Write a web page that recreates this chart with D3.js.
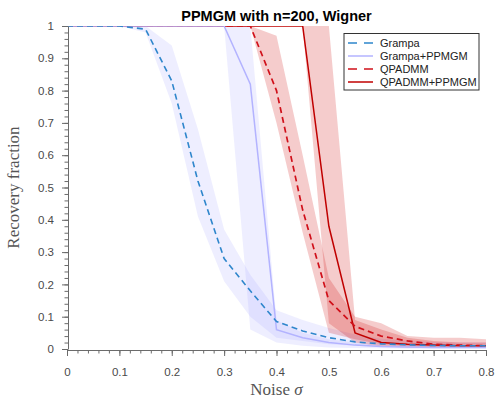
<!DOCTYPE html>
<html>
<head>
<meta charset="utf-8">
<script src="https://cdn.jsdelivr.net/npm/d3@7"></script>
<style>
  body { margin: 0; background: #fff; }
  svg { display: block; }
</style>
</head>
<body>
<svg id="chart"></svg>
<script>
// noise levels (x) and recovery fractions
const noise = [0, 0.05, 0.1, 0.15, 0.2, 0.25, 0.3, 0.35, 0.4, 0.45, 0.5, 0.55, 0.6, 0.65, 0.7, 0.75, 0.8];

const grampaMean = [1, 1, 1, 0.99, 0.83, 0.52, 0.28, 0.18, 0.085, 0.056, 0.035, 0.022, 0.016, 0.013, 0.011, 0.01, 0.01];
const grampaLo   = [1, 1, 1, 0.98, 0.76, 0.41, 0.21, 0.10, 0.035, 0.025, 0.015, 0.01, 0.006, 0.004, 0.003, 0.003, 0.003];
const grampaHi   = [1, 1, 1, 1, 0.94, 0.68, 0.37, 0.23, 0.12, 0.09, 0.065, 0.045, 0.032, 0.026, 0.022, 0.02, 0.02];

const gpMean = [1, 1, 1, 1, 1, 1, 1, 0.82, 0.06, 0.035, 0.02, 0.012, 0.008, 0.006, 0.005, 0.005, 0.005];
const gpLo   = [1, 1, 1, 1, 1, 1, 1, 0.06, 0.02, 0.01, 0.005, 0.003, 0.002, 0.001, 0.001, 0.001, 0.001];
const gpHi   = [1, 1, 1, 1, 1, 1, 1, 1, 0.09, 0.05, 0.03, 0.02, 0.015, 0.012, 0.01, 0.01, 0.01];

const qpMean = [1, 1, 1, 1, 1, 1, 1, 1, 0.8, 0.43, 0.15, 0.07, 0.04, 0.025, 0.015, 0.012, 0.01];
const qpLo   = [1, 1, 1, 1, 1, 1, 1, 1, 0.7, 0.36, 0.05, 0.03, 0.015, 0.01, 0.006, 0.005, 0.005];
const qpHi   = [1, 1, 1, 1, 1, 1, 1, 1, 0.97, 0.6, 0.22, 0.1, 0.08, 0.04, 0.035, 0.035, 0.03];

const qqMean = [1, 1, 1, 1, 1, 1, 1, 1, 1, 1, 0.38, 0.05, 0.02, 0.015, 0.012, 0.01, 0.01];
const qqLo   = [1, 1, 1, 1, 1, 1, 1, 1, 1, 1, 0.08, 0.02, 0.008, 0.005, 0.004, 0.003, 0.003];
const qqHi   = [1, 1, 1, 1, 1, 1, 1, 1, 1, 1, 1, 0.09, 0.06, 0.035, 0.025, 0.02, 0.02];

const seriesNames = ['Grampa', 'Grampa+PPMGM', 'QPADMM', 'QPADMM+PPMGM'];
const xTicks = [0, 0.1, 0.2, 0.3, 0.4, 0.5, 0.6, 0.7, 0.8];
const yTicks = [0, 0.1, 0.2, 0.3, 0.4, 0.5, 0.6, 0.7, 0.8, 0.9, 1];

const W = 496, H = 398;
const margin = { top: 26, right: 10, bottom: 49, left: 67 };
const width = 486 - margin.left;
const height = 349 - margin.top;

const svg = d3.select('#chart').attr('width', W).attr('height', H);

const x = d3.scaleLinear().domain([0, 0.8]).range([0, width]);
const y = d3.scaleLinear().domain([0, 1]).range([height, 0]);

const g = svg.append('g').attr('transform', `translate(${margin.left}, ${margin.top})`);

g.append('clipPath').attr('id', 'clip')
  .append('rect').attr('width', width).attr('height', height);

const plot = g.append('g').attr('clip-path', 'url(#clip)');

const styles = [
  { mean: grampaMean, lo: grampaLo, hi: grampaHi, color: '#2e86cc', band: '#b3b3ff', bandOp: 0.22, dash: '6,4', legendDash: '9,7', w: 1.6 },
  { mean: gpMean, lo: gpLo, hi: gpHi, color: '#b3b3ff', band: '#b3b3ff', bandOp: 0.22, dash: null, legendDash: null, w: 1.5 },
  { mean: qpMean, lo: qpLo, hi: qpHi, color: '#d0101a', band: '#cc0000', bandOp: 0.2, dash: '6,4', legendDash: '9,7', w: 1.7 },
  { mean: qqMean, lo: qqLo, hi: qqHi, color: '#c00000', band: '#cc0000', bandOp: 0.2, dash: null, legendDash: null, w: 1.5 }
];

const area = d3.area()
  .x((d, i) => x(noise[i]))
  .y0(d => y(d[0]))
  .y1(d => y(d[1]));

const line = d3.line()
  .x((d, i) => x(noise[i]))
  .y(d => y(d));

// shaded bands
styles.forEach(s => {
  plot.append('path')
    .datum(s.lo.map((v, i) => [v, s.hi[i]]))
    .attr('d', area)
    .style('fill', s.band)
    .style('fill-opacity', s.bandOp)
    .style('stroke', 'none');
});

// lines, last series first so the lighter ones sit on top at y=1
styles.slice().reverse().forEach(s => {
  plot.append('path')
    .datum(s.mean)
    .attr('d', line)
    .style('fill', 'none')
    .style('stroke', s.color)
    .style('stroke-width', s.w)
    .style('stroke-dasharray', s.dash);
});

// axes
const fmt = d => String(+d.toFixed(1));
const minorX = d3.range(0, 0.8001, 0.02);
const minorY = d3.range(0, 1.0001, 0.02);

const xAxis = g.append('g')
  .attr('transform', `translate(0, ${height + 1})`)
  .call(d3.axisBottom(x).tickValues(xTicks).tickFormat(fmt).tickSize(6).tickSizeOuter(0).tickPadding(12));
g.append('g')
  .attr('transform', `translate(0, ${height + 1})`)
  .call(d3.axisBottom(x).tickValues(minorX).tickFormat('').tickSize(3.5))
  .call(a => a.select('.domain').remove());

const yAxis = g.append('g')
  .attr('transform', 'translate(1, 0)')
  .call(d3.axisLeft(y).tickValues(yTicks).tickFormat(fmt).tickSize(6).tickSizeOuter(0).tickPadding(8));
g.append('g')
  .attr('transform', 'translate(1, 0)')
  .call(d3.axisLeft(y).tickValues(minorY).tickFormat('').tickSize(3.5))
  .call(a => a.select('.domain').remove());

g.selectAll('.domain, .tick line').style('stroke', '#6b6b6b');
g.selectAll('.tick text')
  .style('font-family', '"Liberation Sans", Arial, sans-serif')
  .style('font-size', '11.5px')
  .style('fill', '#4a4a4a');

// axis labels
svg.append('text')
  .attr('x', margin.left + width / 2)
  .attr('y', 395)
  .attr('text-anchor', 'middle')
  .style('font-family', '"Liberation Serif", "DejaVu Serif", serif')
  .style('font-size', '17px')
  .style('fill', '#555')
  .html('Noise <tspan font-style="italic">σ</tspan>');

svg.append('text')
  .attr('transform', `translate(19, ${margin.top + height / 2}) rotate(-90)`)
  .attr('text-anchor', 'middle')
  .style('font-family', '"Liberation Serif", "DejaVu Serif", serif')
  .style('font-size', '17px')
  .style('fill', '#555')
  .text('Recovery fraction');

// title
svg.append('text')
  .attr('x', margin.left + width / 2)
  .attr('y', 21)
  .attr('text-anchor', 'middle')
  .style('font-family', '"Liberation Sans", Arial, sans-serif')
  .style('font-size', '14.5px')
  .style('font-weight', 'bold')
  .style('fill', '#000')
  .text('PPMGM with n=200, Wigner');

// legend
const legend = svg.append('g').attr('transform', 'translate(344, 33.5)');
legend.append('rect')
  .attr('width', 135).attr('height', 56.5)
  .style('fill', '#fff')
  .style('stroke', '#333')
  .style('stroke-width', 1);

seriesNames.forEach((name, i) => {
  const s = styles[i];
  const ly = 9.5 + i * 13;
  legend.append('line')
    .attr('x1', 4).attr('x2', 29)
    .attr('y1', ly).attr('y2', ly)
    .style('stroke', s.color)
    .style('stroke-width', s.w)
    .style('stroke-dasharray', s.legendDash);
  legend.append('text')
    .attr('x', 36).attr('y', ly)
    .attr('dy', '0.35em')
    .style('font-family', '"Liberation Sans", Arial, sans-serif')
    .style('font-size', '11px')
    .style('fill', '#222')
    .text(name);
});
</script>
</body>
</html>
